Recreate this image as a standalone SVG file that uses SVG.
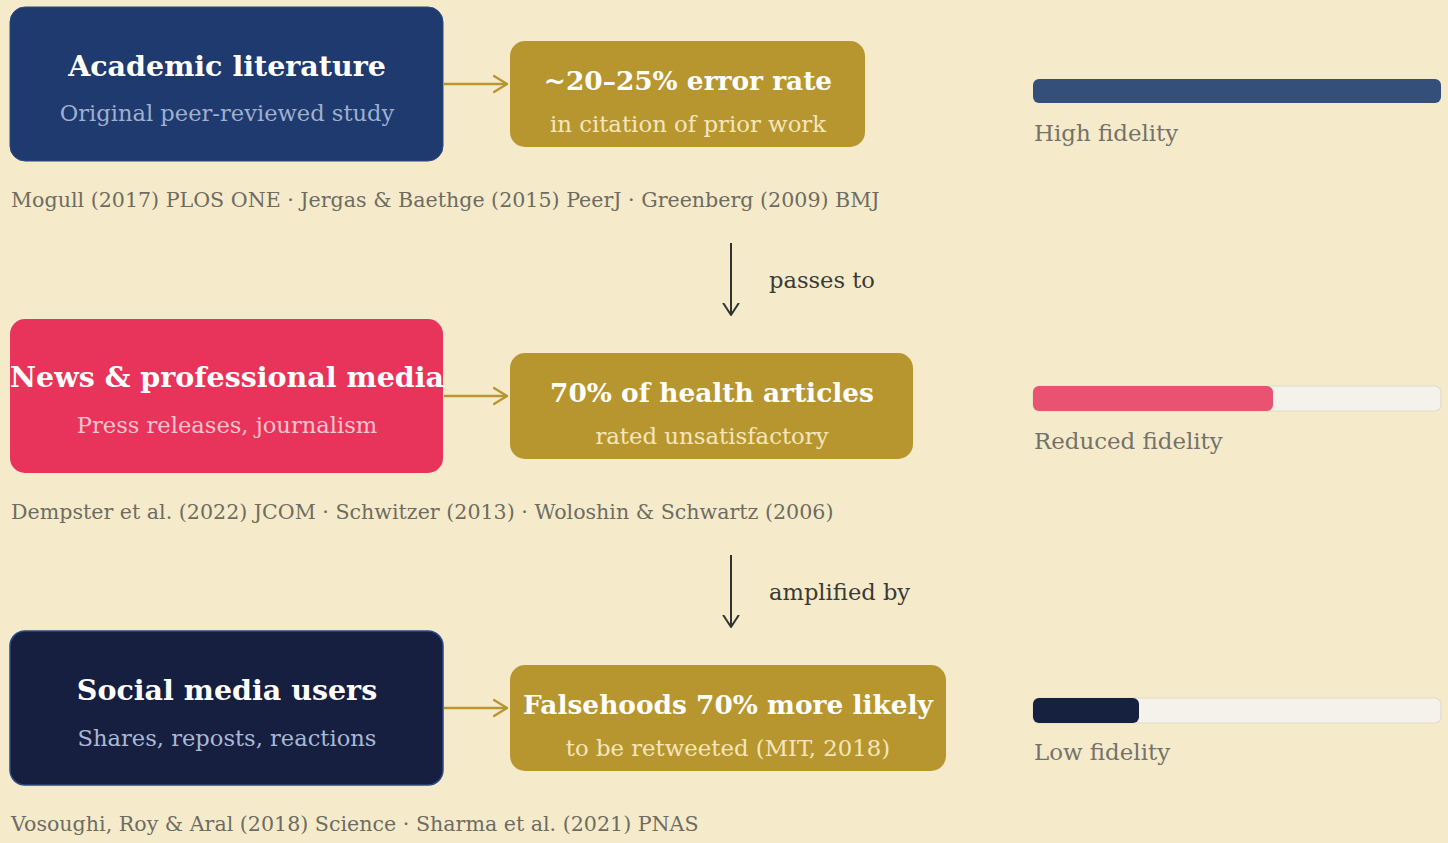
<svg xmlns="http://www.w3.org/2000/svg" width="1448" height="843" viewBox="0 0 1448 843">
<defs>
<style>
text{font-family:"DejaVu Serif","Liberation Serif",serif}
.t{font-weight:bold;fill:#fff;font-size:28.5px;text-anchor:middle}
.s{font-size:22.6px;text-anchor:middle}
.gt{font-weight:bold;fill:#fff;font-size:26.4px;text-anchor:middle}
.gs{font-size:22.8px;fill:#f5e6bc;text-anchor:middle}
.cite{font-size:20.6px;fill:#6e6c62}
.lab{font-size:22.9px;fill:#74726a}
.vl{font-size:22.6px;fill:#3a3a36}
.gold{fill:#b8962f}
.track{fill:#f4f2ea;stroke:#e2dcc8;stroke-width:1.2}
.ha{stroke:#b8962f;stroke-width:2.4;fill:none}
.va{stroke:#333330;stroke-width:2;fill:none}
</style>
<marker id="ag" viewBox="0 0 16 18" refX="14" refY="9" markerWidth="16" markerHeight="18" markerUnits="userSpaceOnUse" orient="auto">
<path d="M1,1 L14,9 L1,17" fill="none" stroke="#b8962f" stroke-width="2.4" stroke-linecap="round" stroke-linejoin="round"/>
</marker>
<marker id="ad" viewBox="0 0 14 18" refX="12.5" refY="9" markerWidth="14" markerHeight="18" markerUnits="userSpaceOnUse" orient="auto">
<path d="M1,1.5 L12.5,9 L1,16.5" fill="none" stroke="#333330" stroke-width="2" stroke-linecap="round" stroke-linejoin="round"/>
</marker>
</defs>
<rect width="1448" height="843" fill="#f5ebcb"/>

<g id="connectors">
<line class="ha" x1="444" y1="84" x2="507" y2="84" marker-end="url(#ag)"/>
<line class="ha" x1="444" y1="396" x2="507" y2="396" marker-end="url(#ag)"/>
<line class="ha" x1="444" y1="708" x2="507" y2="708" marker-end="url(#ag)"/>
<line class="va" x1="731" y1="243" x2="731" y2="315" marker-end="url(#ad)"/>
<text class="vl" x="769" y="288">passes to</text>
<line class="va" x1="731" y1="555" x2="731" y2="627" marker-end="url(#ad)"/>
<text class="vl" x="769" y="600">amplified by</text>
</g>

<g id="academic">
<rect x="10" y="7" width="433" height="154" rx="15" fill="#1f3a6e" stroke="#2d4a80" stroke-width="1"/>
<text class="t" x="227" y="76">Academic literature</text>
<text class="s" x="227" y="121" fill="#9db0cf">Original peer-reviewed study</text>
</g>
<g id="error-rate">
<rect class="gold" x="510" y="41" width="355" height="106" rx="15"/>
<text class="gt" x="688" y="90">~20–25% error rate</text>
<text class="gs" x="688" y="132">in citation of prior work</text>
</g>
<text class="cite" x="11" y="207">Mogull (2017) PLOS ONE · Jergas &amp; Baethge (2015) PeerJ · Greenberg (2009) BMJ</text>
<g id="bar-high">
<rect x="1033" y="79" width="408" height="24" rx="6" fill="#354f7b"/>
<text class="lab" x="1034" y="141">High fidelity</text>
</g>

<g id="news">
<rect x="10" y="319" width="433" height="154" rx="15" fill="#e8345a"/>
<text class="t" x="227" y="387">News &amp; professional media</text>
<text class="s" x="227" y="433" fill="#f9c3cf">Press releases, journalism</text>
</g>
<g id="health">
<rect class="gold" x="510" y="353" width="403" height="106" rx="15"/>
<text class="gt" x="712" y="402">70% of health articles</text>
<text class="gs" x="712" y="444">rated unsatisfactory</text>
</g>
<text class="cite" x="11" y="519">Dempster et al. (2022) JCOM · Schwitzer (2013) · Woloshin &amp; Schwartz (2006)</text>
<g id="bar-reduced">
<rect class="track" x="1033" y="386" width="408" height="25" rx="6"/>
<rect x="1033" y="386" width="240" height="25" rx="6" fill="#ea5271"/>
<text class="lab" x="1034" y="449">Reduced fidelity</text>
</g>

<g id="social">
<rect x="10" y="631" width="433" height="154" rx="15" fill="#161f40" stroke="#2b4a85" stroke-width="1.5"/>
<text class="t" x="227" y="700">Social media users</text>
<text class="s" x="227" y="746" fill="#a9b8d6">Shares, reposts, reactions</text>
</g>
<g id="falsehoods">
<rect class="gold" x="510" y="665" width="436" height="106" rx="15"/>
<text class="gt" x="728" y="714">Falsehoods 70% more likely</text>
<text class="gs" x="728" y="756">to be retweeted (MIT, 2018)</text>
</g>
<text class="cite" x="11" y="831">Vosoughi, Roy &amp; Aral (2018) Science · Sharma et al. (2021) PNAS</text>
<g id="bar-low">
<rect class="track" x="1033" y="698" width="408" height="25" rx="6"/>
<rect x="1033" y="698" width="106" height="25" rx="6" fill="#16213f"/>
<text class="lab" x="1034" y="760">Low fidelity</text>
</g>
</svg>
